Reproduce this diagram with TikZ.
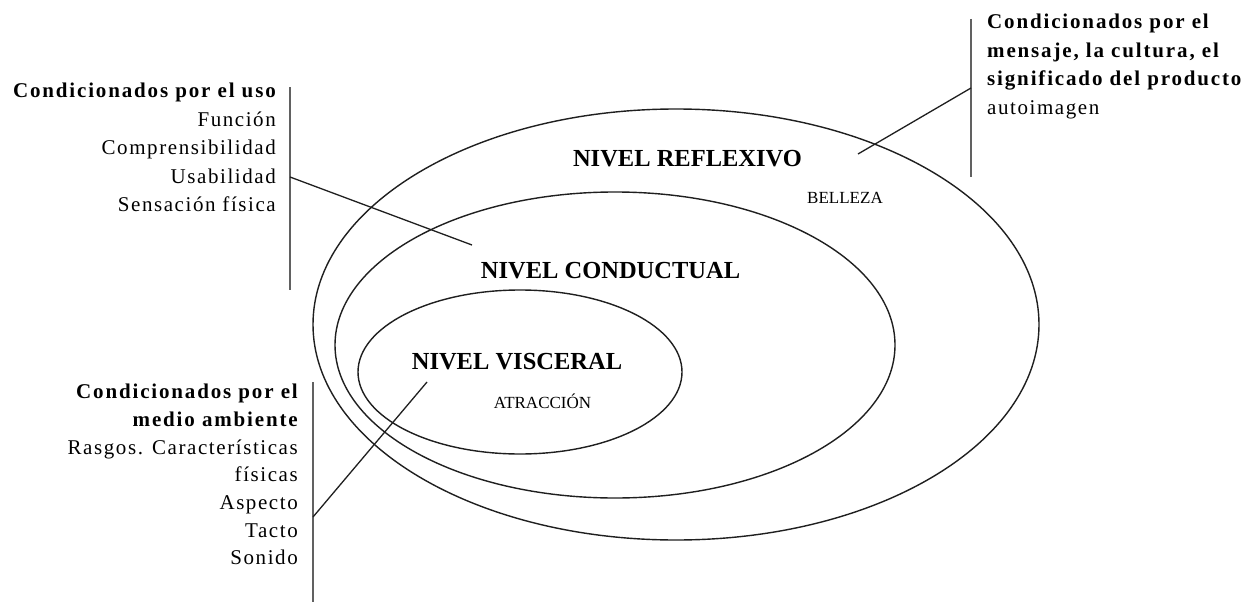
\documentclass[tikz,border=0pt]{standalone}
\usepackage{fontspec}
\setmainfont{Liberation Serif}
\newfontfamily\sidefont[LetterSpace=7.5, BoldFeatures={LetterSpace=8.8}]{Liberation Serif}
\usetikzlibrary{shapes.geometric}
\begin{document}
\begin{tikzpicture}[x=1pt,y=-1pt,
  ring/.style={draw=black!88, line width=1.4pt, ellipse, inner sep=0pt},
  leader/.style={draw=black!88, line width=1.3pt},
  bar/.style={draw=black!62, line width=1.8pt},
  title/.style={font=\fontsize{24.5}{29}\selectfont\bfseries, inner sep=0pt, anchor=base},
  tag/.style={font=\fontsize{17}{20}\selectfont, inner sep=0pt, anchor=base},
  side/.style={font=\sidefont\fontsize{21}{28.5}\selectfont, inner sep=0pt}]
\useasboundingbox[fill=white] (0,0) rectangle (1253,602);

% the three nested levels
\node[ring, minimum width=726pt, minimum height=431pt] (reflexivo) at (676,324.5) {};
\node[ring, minimum width=560pt, minimum height=306pt] (conductual) at (615,345) {};
\node[ring, minimum width=324pt, minimum height=164pt] (visceral) at (520,372) {};

\node[title] (treflex) at (687.5,166) {NIVEL REFLEXIVO};
\node[tag]   (belleza) at (845,203) {BELLEZA};
\node[title] (tcond)   at (610.5,278) {NIVEL CONDUCTUAL};
\node[title] (tvisc)   at (517,369) {NIVEL VISCERAL};
\node[tag]   (atrac)   at (542.5,408) {ATRACCIÓN};

% side notes
\node[side, align=right, anchor=north east] (uso) at (276,83)
  {\bfseries Condicionados por el uso\\Función\\Comprensibilidad\\Usabilidad\\Sensación física};
\node[side, font=\sidefont\fontsize{21}{27.7}\selectfont, align=right, anchor=north east] (medio) at (298,384)
  {\bfseries Condicionados por el\\\bfseries medio ambiente\\Rasgos. Características\\físicas\\Aspecto\\Tacto\\Sonido};
\node[side, align=left, anchor=north west] (mensaje) at (987,14)
  {\bfseries Condicionados por el\\\bfseries mensaje, la cultura, el\\\bfseries significado del producto\\autoimagen};

% brackets beside the notes
\coordinate (usoTop) at (290,87);   \coordinate (usoBot) at (290,290);
\coordinate (medTop) at (313,382);  \coordinate (medBot) at (313,602);
\coordinate (menTop) at (971,19);   \coordinate (menBot) at (971,177);
\draw[bar] (usoTop) -- (usoBot);
\draw[bar] (medTop) -- (medBot);
\draw[bar] (menTop) -- (menBot);

% leaders from the brackets into the levels
\coordinate (usoJ) at (290,177);  \coordinate (usoEnd) at (472,245);
\coordinate (medJ) at (313,517);  \coordinate (medEnd) at (427,382);
\coordinate (menJ) at (971,88);   \coordinate (menEnd) at (858,154);
\draw[leader] (usoJ) -- (usoEnd);
\draw[leader] (medJ) -- (medEnd);
\draw[leader] (menJ) -- (menEnd);
\end{tikzpicture}
\end{document}
